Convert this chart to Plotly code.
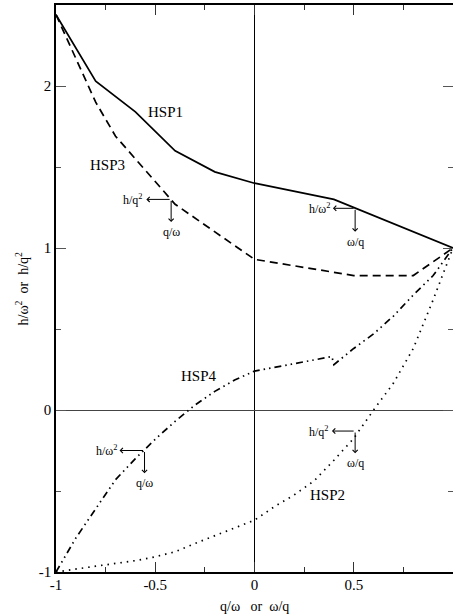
"""
HSP1-HSP4 eğrileri: h/omega^2 veya h/q^2
"""
import plotly.graph_objects as go

# veriler
hsp1_x = [-1, -0.8, -0.6, -0.4, -0.2, 0, 0.4, 1]
hsp1_y = [2.44, 2.03, 1.84, 1.60, 1.47, 1.40, 1.30, 1.0]

hsp3_x = [-1, -0.9, -0.8, -0.7, -0.6, -0.5, -0.4, 0, 0.5, 0.8, 1]
hsp3_y = [2.44, 2.17, 1.90, 1.69, 1.55, 1.41, 1.27, 0.93, 0.83, 0.83, 1.0]

hsp4_x = [-1, -0.9, -0.8, -0.7, -0.6, -0.5, -0.4, -0.3, -0.2, -0.1, 0,
          0.39, 0.40, 0.5, 0.6, 0.7, 0.8, 0.9, 1]
hsp4_y = [-1.0, -0.79, -0.61, -0.43, -0.30, -0.18, -0.07, 0.03, 0.115, 0.185, 0.24,
          0.33, 0.28, 0.38, 0.47, 0.58, 0.71, 0.83, 1.0]

hsp2_x = [-1, -0.9, -0.8, -0.7, -0.6, -0.5, -0.4, -0.3, -0.2, -0.1, 0,
          0.1, 0.2, 0.3, 0.4, 0.5, 0.6, 0.7, 0.8, 0.9, 1]
hsp2_y = [-1.0, -0.98, -0.964, -0.947, -0.93, -0.906, -0.875, -0.824, -0.776, -0.728, -0.68,
          -0.597, -0.524, -0.438, -0.31, -0.175, 0.0, 0.166, 0.38, 0.68, 1.0]

x_ticks = [-1, -0.5, 0, 0.5]
x_ticktext = ['-1', '-0.5', '0', '0.5']
y_ticks = [-1, 0, 1, 2]
y_ticktext = ['-1', '0', '1', '2']

# eğri isimleri ve konumları
curve_labels = [('HSP1', -0.45, 1.84), ('HSP3', -0.74, 1.51),
                ('HSP4', -0.28, 0.21), ('HSP2', 0.37, -0.525)]

# oklar: köşe noktası, sol ok ucu x, alt ok ucu y, sol yazı, alt yazı
arrows = [(-0.42, 1.30, -0.545, 1.16, 'h/q<sup>2</sup>', 'q/ω'),
          (0.507, 1.245, 0.395, 1.10, 'h/ω<sup>2</sup>', 'ω/q'),
          (-0.554, -0.25, -0.68, -0.39, 'h/ω<sup>2</sup>', 'q/ω'),
          (0.507, -0.13, 0.39, -0.267, 'h/q<sup>2</sup>', 'ω/q')]

FONT = 'Liberation Serif, Times New Roman, serif'

data = [
    go.Scatter(x=hsp1_x, y=hsp1_y, mode='lines',
               line=dict(color='black', width=1.7)),
    go.Scatter(x=hsp3_x, y=hsp3_y, mode='lines',
               line=dict(color='black', width=1.7, dash='8px,5px')),
    go.Scatter(x=hsp4_x, y=hsp4_y, mode='lines',
               line=dict(color='black', width=1.7, dash='7px,4px,1.5px,4px,1.5px,4px')),
    go.Scatter(x=hsp2_x, y=hsp2_y, mode='lines',
               line=dict(color='black', width=1.7, dash='1.5px,5px')),
]

annotations = []
for name, lx, ly in curve_labels:
    annotations.append(dict(x=lx, y=ly, text=name, showarrow=False,
                            font=dict(family=FONT, size=15, color='black')))

for cx, cy, hx, vy, t_left, t_down in arrows:
    # sola ok
    annotations.append(dict(x=hx, y=cy, ax=cx, ay=cy, axref='x', ayref='y',
                            text='', showarrow=True, arrowhead=4, arrowsize=1,
                            arrowwidth=1, arrowcolor='black'))
    # aşağı ok
    annotations.append(dict(x=cx, y=vy, ax=cx, ay=cy, axref='x', ayref='y',
                            text='', showarrow=True, arrowhead=4, arrowsize=1,
                            arrowwidth=1, arrowcolor='black'))
    annotations.append(dict(x=hx, y=cy, text=t_left, showarrow=False,
                            xanchor='right', yanchor='middle', xshift=-1,
                            font=dict(family=FONT, size=12, color='black')))
    annotations.append(dict(x=cx, y=vy, text=t_down, showarrow=False,
                            xanchor='center', yanchor='top', yshift=-1,
                            font=dict(family=FONT, size=12, color='black')))

# eksen başlıkları (annotation olarak, konum kontrolü için)
annotations.append(dict(x=0.5, y=0, xref='paper', yref='paper', yshift=-34,
                        text='q/ω   or  ω/q', showarrow=False,
                        xanchor='center', yanchor='middle',
                        font=dict(family=FONT, size=14, color='black')))
annotations.append(dict(x=0, y=0.5, xref='paper', yref='paper', xshift=-34,
                        text='h/ω<sup>2</sup>  or  h/q<sup>2</sup>', showarrow=False,
                        textangle=-90, xanchor='center', yanchor='middle',
                        font=dict(family=FONT, size=14, color='black')))

layout = go.Layout(
    width=455, height=615,
    margin=dict(l=56, r=0, t=5, b=43),
    paper_bgcolor='white', plot_bgcolor='white',
    showlegend=False,
    font=dict(family=FONT, size=15, color='black'),
    xaxis=dict(range=[-1, 1], tickvals=x_ticks, ticktext=x_ticktext,
               ticks='inside', ticklen=10, tickwidth=1, tickcolor='#333',
               ticklabelstandoff=-2,
               minor=dict(tickvals=[-0.75, -0.25, 0.25, 0.75], ticks='inside',
                          ticklen=5, tickcolor='#333'),
               showline=True, linecolor='black', linewidth=2, mirror='ticks',
               showgrid=False, zeroline=True, zerolinecolor='black', zerolinewidth=1),
    yaxis=dict(range=[-1, 2.5], tickvals=y_ticks, ticktext=y_ticktext,
               ticks='inside', ticklen=10, tickwidth=1, tickcolor='#555',
               minor=dict(tickvals=[-0.5, 0.5, 1.5], ticks='inside',
                          ticklen=5, tickcolor='#555'),
               showline=True, linecolor='black', linewidth=1.5, mirror='ticks',
               showgrid=False, zeroline=True, zerolinecolor='#444', zerolinewidth=1),
    annotations=annotations,
)

fig = go.Figure(data=data, layout=layout)
fig.write_html('out.html', config={'displayModeBar': False},
               post_script="document.body.style.margin='0';"
                           "document.body.style.overflow='hidden';")
